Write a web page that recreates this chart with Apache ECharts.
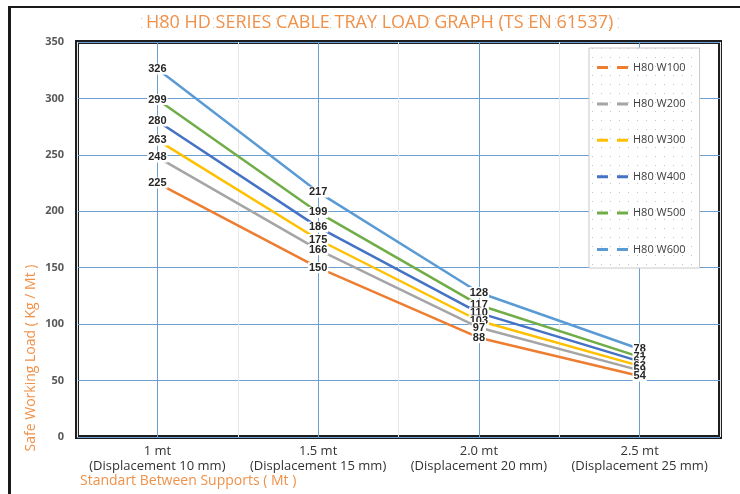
<!DOCTYPE html>
<html>
<head>
<meta charset="utf-8">
<title>H80 HD Series Cable Tray Load Graph</title>
<script src="https://cdn.jsdelivr.net/npm/echarts@6/dist/echarts.min.js"></script>
<style>
  html, body { margin: 0; padding: 0; background: #fff; }
  #load-chart { width: 740px; height: 494px; }
</style>
</head>
<body>
<div id="load-chart"></div>
<script>
// data
const categories = [
  '1 mt\n(Displacement 10 mm)',
  '1.5 mt\n(Displacement 15 mm)',
  '2.0 mt\n(Displacement 20 mm)',
  '2.5 mt\n(Displacement 25 mm)'
];
const seriesNames = ['H80 W100', 'H80 W200', 'H80 W300', 'H80 W400', 'H80 W500', 'H80 W600'];
const w100 = [225, 150, 88, 54];
const w200 = [248, 166, 97, 59];
const w300 = [263, 175, 103, 63];
const w400 = [280, 186, 110, 67];
const w500 = [299, 199, 117, 71];
const w600 = [326, 217, 128, 78];
const yTicks = [0, 50, 100, 150, 200, 250, 300, 350];

const seriesData = [w100, w200, w300, w400, w500, w600];
const colors = ['#ED7D31', '#A5A5A5', '#FFC000', '#4472C4', '#70AD47', '#5B9BD5'];

let loadChart = null;

// small dotted fill, like the excel plot/legend background
function makeDotPattern() {
  const c = document.createElement('canvas');
  c.width = 9;
  c.height = 9;
  const ctx = c.getContext('2d');
  ctx.fillStyle = '#ffffff';
  ctx.fillRect(0, 0, 9, 9);
  ctx.fillStyle = '#b9c6d6';
  ctx.fillRect(4, 4, 1, 1);
  return { image: c, repeat: 'repeat' };
}

function initLoadChart() {
  const chartDom = document.getElementById('load-chart');
  if (!chartDom) return;
  if (loadChart) loadChart.dispose();

  loadChart = echarts.init(chartDom, null, { renderer: 'canvas' });
  const dots = makeDotPattern();

  // lower series get the higher z so their labels sit on top where they crowd
  const series = seriesNames.map((name, i) => ({
    name: name,
    type: 'line',
    data: seriesData[i],
    symbol: 'circle',
    symbolSize: 1,
    showSymbol: true,
    itemStyle: { color: colors[i] },
    lineStyle: { color: colors[i], width: 2.5 },
    label: {
      show: true,
      position: 'inside',
      color: '#262626',
      fontSize: 11,
      fontWeight: 'bold',
      fontFamily: 'Liberation Sans',
      backgroundColor: '#ffffff',
      padding: [0, 1]
    },
    z: 10 - i
  }));

  const option = {
    backgroundColor: '#ffffff',
    animation: false,
    title: {
      text: 'H80 HD SERIES CABLE TRAY LOAD GRAPH (TS EN 61537)',
      left: 138,
      top: 11,
      padding: [3, 8],
      backgroundColor: dots,
      textStyle: {
        color: '#F0914A',
        fontSize: 18,
        fontWeight: 'normal',
        fontFamily: 'Open Sans'
      }
    },
    legend: {
      orient: 'vertical',
      left: 589,
      top: 48,
      padding: [14, 14, 13, 8],
      itemGap: 25.4,
      itemWidth: 31,
      itemHeight: 3,
      icon: 'path://M0,0h11v3h-11z M20,0h11v3h-11z',
      backgroundColor: dots,
      borderColor: '#c8c8c8',
      borderWidth: 1,
      textStyle: { color: '#404040', fontSize: 11, fontFamily: 'Open Sans' },
      data: seriesNames
    },
    grid: {
      left: 77,
      right: 20,
      top: 42,
      bottom: 57,
      show: true,
      backgroundColor: '#ffffff',
      borderColor: '#1e1e1e',
      borderWidth: 4
    },
    xAxis: [
      {
        type: 'category',
        data: categories,
        boundaryGap: true,
        axisLine: { show: false },
        axisTick: { show: false },
        axisLabel: {
          interval: 0,
          color: '#333333',
          fontSize: 13,
          lineHeight: 15,
          margin: 7,
          fontFamily: 'Open Sans'
        },
        splitLine: { show: true, lineStyle: { color: '#e8e8e8', width: 1 } }
      },
      {
        // second copy only to put blue lines at the category centers
        type: 'category',
        data: categories,
        boundaryGap: true,
        position: 'bottom',
        axisLine: { show: false },
        axisTick: { show: false, alignWithLabel: true },
        axisLabel: { show: false },
        splitLine: { show: true, alignWithLabel: true, lineStyle: { color: '#6a9fd3', width: 1 } }
      }
    ],
    yAxis: {
      type: 'value',
      min: yTicks[0],
      max: yTicks[yTicks.length - 1],
      interval: yTicks[1] - yTicks[0],
      axisLine: { show: false },
      axisTick: { show: false },
      axisLabel: {
        color: '#595959',
        fontSize: 11,
        fontWeight: 'bold',
        margin: 13,
        fontFamily: 'Open Sans'
      },
      splitLine: { lineStyle: { color: '#6a9fd3', width: 1 } }
    },
    graphic: [
      // outer frame (left + top only, the rest is cropped)
      { type: 'rect', left: 8, top: 6, shape: { width: 3, height: 488 }, style: { fill: '#1a1a1a' }, silent: true },
      { type: 'rect', left: 8, top: 6, shape: { width: 732, height: 2 }, style: { fill: '#1a1a1a' }, silent: true },
      {
        type: 'text',
        left: 80,
        top: 474,
        style: {
          text: 'Standart Between Supports ( Mt )',
          fill: '#F0914A',
          fontSize: 14,
          fontFamily: 'Open Sans'
        }
      },
      {
        type: 'text',
        x: 31,
        y: 358,
        rotation: Math.PI / 2,
        style: {
          text: 'Safe Working Load ( Kg / Mt )',
          fill: '#F0914A',
          fontSize: 14,
          fontFamily: 'Open Sans',
          align: 'center',
          verticalAlign: 'middle'
        }
      }
    ],
    series: series
  };

  loadChart.setOption(option);
}

document.addEventListener('DOMContentLoaded', () => {
  initLoadChart();
});
</script>
</body>
</html>
